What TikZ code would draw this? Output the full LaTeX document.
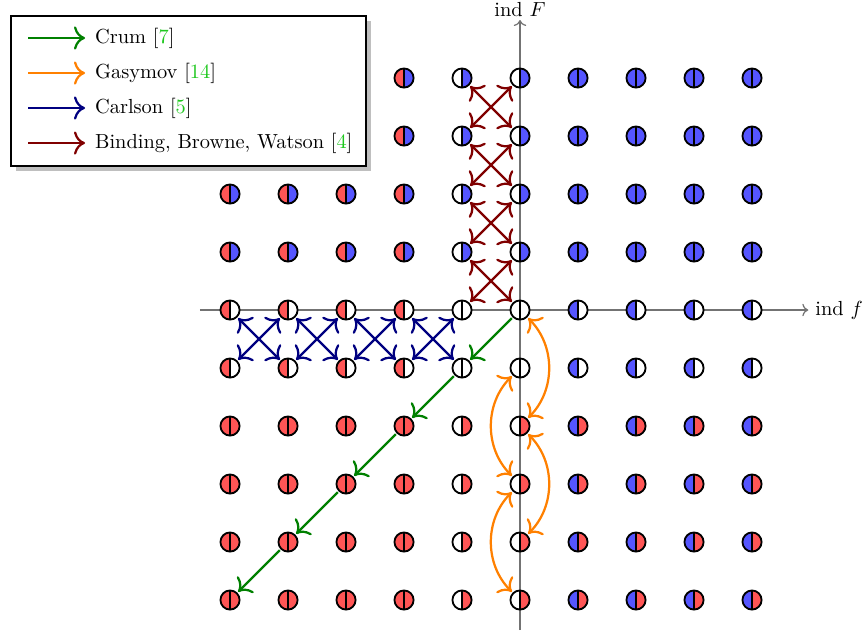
\documentclass[tikz,border=0pt]{standalone}
\usetikzlibrary{shadows,arrows.meta}
\definecolor{cred}{RGB}{255,85,85}
\definecolor{cblue}{RGB}{85,85,255}
\definecolor{citegreen}{RGB}{30,200,30}
\tikzset{
  dot/.style 2 args={circle,draw=black,line width=0.9pt,minimum size=0.33cm,inner sep=0pt,outer sep=1pt,
    path picture={
      \fill[fill=#1] (path picture bounding box.south west) rectangle (path picture bounding box.north);
      \fill[fill=#2] (path picture bounding box.south) rectangle (path picture bounding box.north east);
      \draw[line width=0.9pt] (path picture bounding box.south) -- (path picture bounding box.north);}},
  axisline/.style={draw=black!55,line width=0.6pt,->},
  link/.style={line width=1.1pt,>={To[scale=1.35]},->},
  crum/.style={link,draw=green!50!black},
  gasy/.style={link,draw=orange,<->},
  carl/.style={link,draw=blue!50!black,<->},
  bbw/.style={link,draw=red!50!black,<->},
  legendbox/.style={draw=black,fill=white,line width=1.2pt,drop shadow,anchor=north west,
    minimum width=6.12cm,minimum height=2.586cm,inner sep=0pt},
  legtext/.style={anchor=west}
}
\begin{document}
\begin{tikzpicture}
\useasboundingbox (-8.966,-5.603) rectangle (5.948,5.345);
% axes
\coordinate (xl) at (-5.52,0);
\coordinate (xr) at (4.97,0);
\coordinate (yb) at (0,-5.52);
\coordinate (yt) at (0,5.0);
\draw[axisline] (xl) -- (xr);
\draw[axisline] (yb) -- (yt);
\node[right] (xlab) at (xr) {ind $f$};
\node[above,inner sep=1.5pt] (ylab) at (yt) {ind $F$};
% dots
\foreach \i in {-5,...,4}{
  \foreach \j in {-5,...,4}{
    \pgfmathtruncatemacro\X{\i+5}
    \pgfmathtruncatemacro\Y{\j+5}
    \def\show{1}\ifnum\i<-2 \ifnum\j>2 \def\show{0}\fi\fi
    \ifnum\i<-1 \def\lc{cred}\else\ifnum\i>0 \def\lc{cblue}\else\def\lc{white}\fi\fi
    \ifnum\j>0 \def\rc{cblue}\else\ifnum\j<-1 \def\rc{cred}\else\def\rc{white}\fi\fi
    \ifnum\show=1 \node[dot={\lc}{\rc}] (p\X\Y) at (\i,\j) {};\fi
  }}
% Crum
\foreach \a/\b in {55/44,44/33,33/22,22/11,11/00}
  \draw[crum] (p\a) -- (p\b);
% Gasymov
\draw[gasy] (p55) to[bend left=45] (p53);
\draw[gasy] (p54) to[bend right=45] (p52);
\draw[gasy] (p53) to[bend left=45] (p51);
\draw[gasy] (p52) to[bend right=45] (p50);
% Carlson
\foreach \a/\b in {0/1,1/2,2/3,3/4}{
  \draw[carl] (p\a5) -- (p\b4);
  \draw[carl] (p\a4) -- (p\b5);
}
% Binding, Browne, Watson
\foreach \a/\b in {5/6,6/7,7/8,8/9}{
  \draw[bbw] (p4\a) -- (p5\b);
  \draw[bbw] (p5\a) -- (p4\b);
}
% legend
\node[legendbox] (legend) at (-8.793,5.086) {};
\coordinate (la1) at (-8.483,4.69);  \coordinate (lb1) at (-7.5,4.69);
\coordinate (la2) at (-8.483,4.086); \coordinate (lb2) at (-7.5,4.086);
\coordinate (la3) at (-8.483,3.483); \coordinate (lb3) at (-7.5,3.483);
\coordinate (la4) at (-8.483,2.879); \coordinate (lb4) at (-7.5,2.879);
\draw[crum] (la1) -- (lb1);
\draw[link,draw=orange] (la2) -- (lb2);
\draw[link,draw=blue!50!black] (la3) -- (lb3);
\draw[link,draw=red!50!black] (la4) -- (lb4);
\node[legtext] (lt1) at ([xshift=0.05cm]lb1) {Crum [\textcolor{citegreen}{7}]};
\node[legtext] (lt2) at ([xshift=0.05cm]lb2) {Gasymov [\textcolor{citegreen}{14}]};
\node[legtext] (lt3) at ([xshift=0.05cm]lb3) {Carlson [\textcolor{citegreen}{5}]};
\node[legtext] (lt4) at ([xshift=0.05cm]lb4) {Binding, Browne, Watson [\textcolor{citegreen}{4}]};
\end{tikzpicture}
\end{document}
